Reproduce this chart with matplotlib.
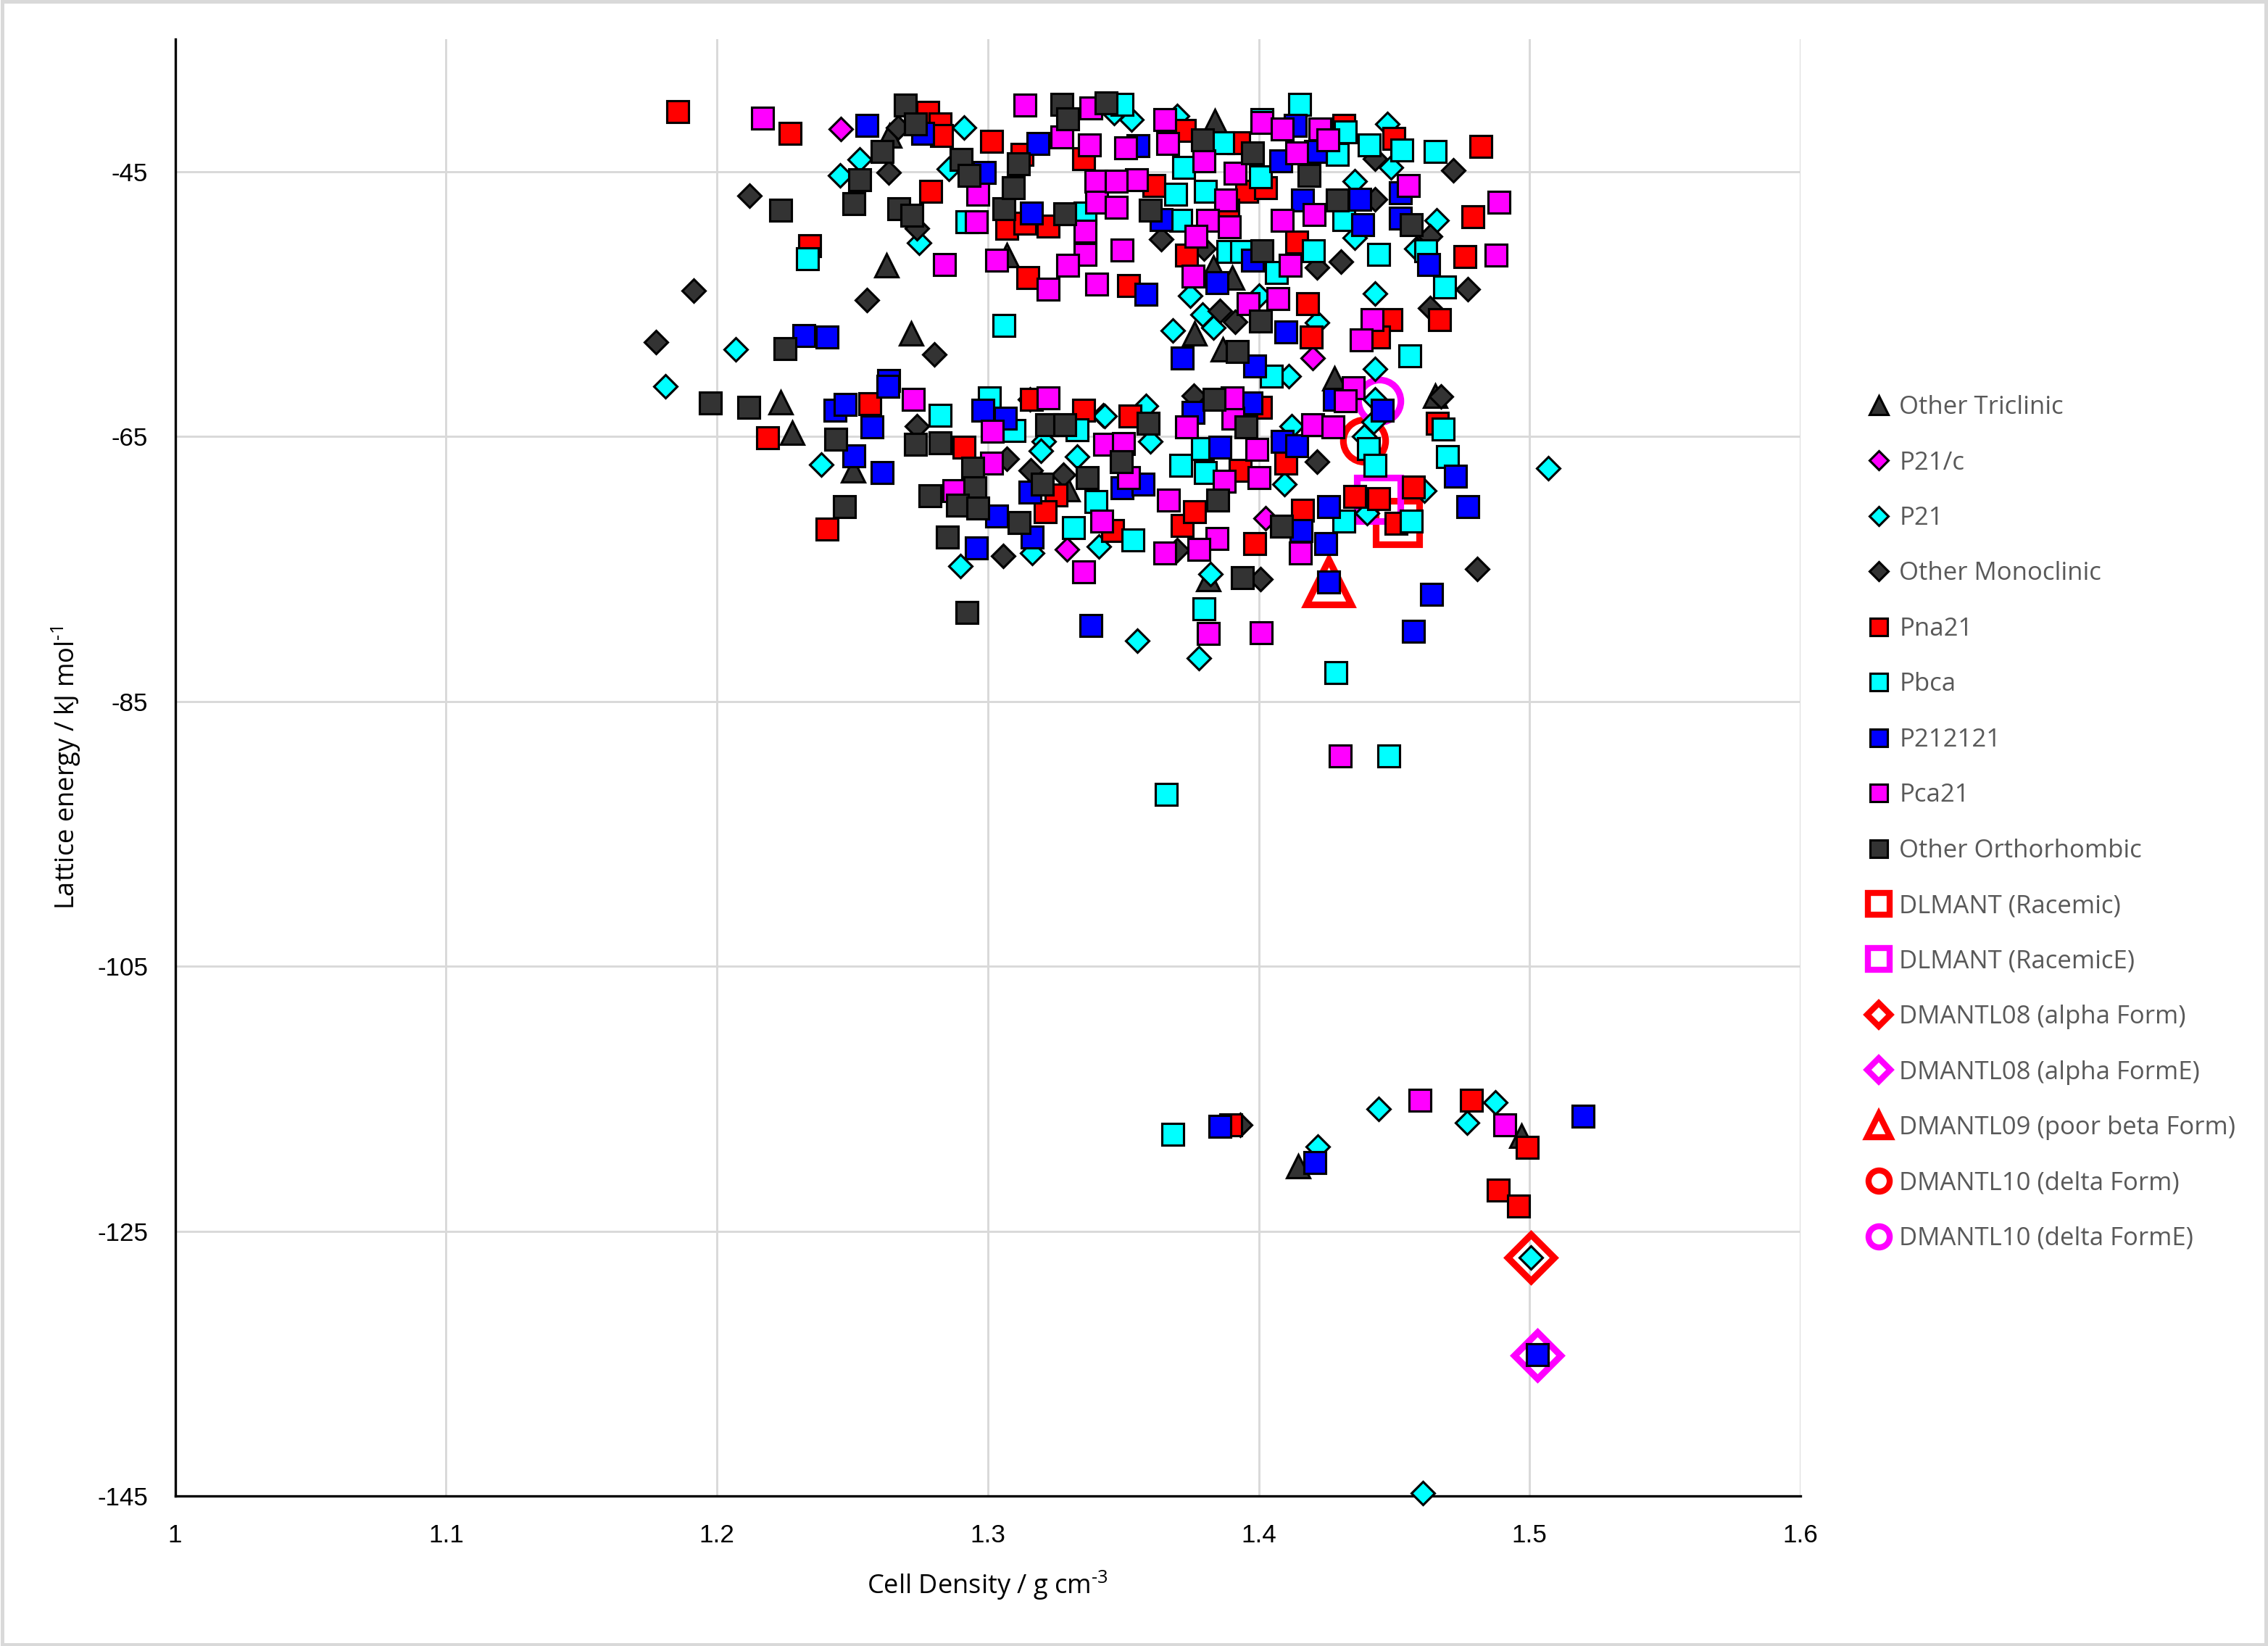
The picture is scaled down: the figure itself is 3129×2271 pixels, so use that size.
import matplotlib
matplotlib.use("Agg")
import matplotlib.pyplot as plt
from matplotlib.lines import Line2D
from matplotlib.patches import Rectangle

plt.rcParams['font.family'] = ['Liberation Sans', 'DejaVu Sans']
plt.rcParams['axes.unicode_minus'] = False
plt.rcParams['mathtext.fontset'] = 'custom'
plt.rcParams['mathtext.rm'] = 'Open Sans'
plt.rcParams['mathtext.it'] = 'Open Sans'
TITLE_FONT = ['Open Sans', 'DejaVu Sans']

# ---------------- data ----------------
tri_x = [1.2637, 1.2626, 1.2718, 1.307, 1.3838, 1.3833, 1.3903, 1.3763, 1.3868, 1.428,
         1.2236, 1.2277, 1.2503, 1.3296, 1.4651, 1.3815, 1.4971, 1.4145]
tri_y = [-42.3, -52.1, -57.2, -51.3, -41.2, -52.25, -53.0, -57.2, -58.4, -60.6,
         -62.4, -64.7, -67.55, -69.0, -61.9, -75.75, -117.8, -120.1]

p21c_x = [1.2457, 1.4198, 1.3291, 1.4024]
p21c_y = [-41.8, -59.1, -73.5, -71.2]

p21_x = [1.2913, 1.2528, 1.2454, 1.2857, 1.2747, 1.2069, 1.181,
         1.3531, 1.3467, 1.3699, 1.4476, 1.4489, 1.3746, 1.3792, 1.3833, 1.3682, 1.4111,
         1.4001, 1.4216, 1.443, 1.443, 1.4355, 1.4355, 1.4657, 1.4581,
         1.2384, 1.3155, 1.3426, 1.3206, 1.3195, 1.333, 1.29, 1.3163, 1.3409,
         1.443, 1.4425, 1.439, 1.5069, 1.461, 1.4401, 1.4121, 1.4096, 1.3583, 1.3432,
         1.3601, 1.3822, 1.3551, 1.378,
         1.4443, 1.4873, 1.4768, 1.4219, 1.5004, 1.4606]
p21_y = [-41.7, -44.1, -45.3, -44.8, -50.4, -58.4, -61.2,
         -41.1, -40.6, -40.8, -41.4, -44.7, -54.4, -55.8, -56.8, -57.0, -60.45,
         -54.4, -56.4, -54.2, -59.9, -50.0, -45.7, -48.7, -50.8,
         -67.1, -62.2, -63.4, -65.4, -66.1, -66.5, -74.8, -73.8, -73.3,
         -62.2, -63.9, -65.0, -67.4, -69.1, -70.8, -64.2, -68.6, -62.7, -63.45,
         -65.4, -75.4, -80.4, -81.75,
         -115.8, -115.3, -116.8, -118.6, -127.0, -144.8]

mono_x = [1.267, 1.2634, 1.2119, 1.2739, 1.1914, 1.2553, 1.1776, 1.2803,
          1.4718, 1.443, 1.3641, 1.3798, 1.3856, 1.3914, 1.4216, 1.4303, 1.4773, 1.4633,
          1.443, 1.4633,
          1.2739, 1.3071, 1.3058, 1.3158, 1.3279,
          1.4672, 1.4806, 1.4216, 1.376, 1.3699, 1.4007, 1.3933]
mono_y = [-41.7, -45.05, -46.8, -49.3, -54.0, -54.7, -57.9, -58.8,
          -44.9, -44.05, -50.1, -50.8, -55.5, -56.35, -52.25, -51.8, -53.9, -55.3,
          -47.1, -49.9,
          -64.2, -66.7, -74.0, -67.55, -67.9,
          -62.0, -75.0, -66.9, -61.9, -73.6, -75.75, -117.0]

pna_x = [1.1855, 1.2271, 1.2778, 1.2823, 1.2829, 1.3015, 1.279, 1.2343, 1.3148, 1.307,
         1.3136, 1.3223, 1.3127, 1.3353,
         1.3725, 1.3925, 1.4314, 1.45, 1.4819, 1.3613, 1.3955, 1.4025, 1.3885, 1.3734,
         1.352, 1.4181, 1.4193, 1.414, 1.4489, 1.4442, 1.4668, 1.479, 1.4761,
         1.2187, 1.2564, 1.2407, 1.2911, 1.3161, 1.3353, 1.3251, 1.3212,
         1.466, 1.457, 1.4354, 1.4442, 1.4506, 1.4161, 1.3984, 1.3717, 1.3763, 1.41,
         1.4007, 1.3525, 1.3462, 1.3931,
         1.3898, 1.4786, 1.4991, 1.4884, 1.496]
pna_y = [-40.45, -42.1, -40.5, -41.4, -42.3, -42.7, -46.5, -50.6, -53.0, -49.3,
         -48.9, -49.1, -43.7, -44.05,
         -41.9, -42.8, -41.5, -42.5, -43.1, -46.05, -46.5, -46.2, -47.9, -51.3,
         -53.6, -55.0, -57.5, -50.3, -56.2, -57.5, -56.2, -48.4, -51.4,
         -65.1, -62.5, -72.0, -65.8, -62.2, -63.0, -69.4, -70.7,
         -64.0, -68.8, -69.55, -69.7, -71.55, -70.55, -73.1, -71.7, -70.7, -67.0,
         -62.8, -63.45, -72.1, -67.55,
         -117.0, -115.1, -118.7, -121.9, -123.1]

pbca_x = [1.2924, 1.2333, 1.306, 1.3358,
          1.3496, 1.3867, 1.4012, 1.4151, 1.432, 1.4407, 1.4529, 1.4651, 1.4291, 1.3722,
          1.3694, 1.3804, 1.4007, 1.3711, 1.4048, 1.4203, 1.4065, 1.3885, 1.3937, 1.4442,
          1.4558, 1.4314, 1.4616, 1.4686,
          1.2823, 1.3005, 1.3096, 1.333, 1.3398, 1.3317,
          1.4405, 1.443, 1.468, 1.4697, 1.4564, 1.4314, 1.3537, 1.3711, 1.3804, 1.3792,
          1.3797, 1.4285,
          1.3683, 1.448, 1.3659]
pbca_y = [-48.8, -51.6, -56.6, -48.15,
          -39.9, -42.8, -41.1, -39.9, -42.0, -43.0, -43.4, -43.5, -43.7, -44.7,
          -46.7, -46.5, -45.4, -48.7, -60.45, -51.0, -52.6, -51.05, -51.05, -51.25,
          -58.9, -48.6, -51.0, -53.7,
          -63.4, -62.1, -64.55, -64.5, -69.9, -71.9,
          -65.9, -67.2, -64.45, -66.5, -71.4, -71.4, -72.8, -67.2, -67.7, -65.9,
          -78.0, -82.85,
          -117.7, -89.1, -92.0]

p212121_x = [1.2555, 1.2761, 1.2987, 1.2322, 1.2407, 1.2634, 1.3161, 1.3184,
             1.3554, 1.4134, 1.421, 1.4082, 1.3641, 1.3845, 1.3583, 1.3717, 1.3984, 1.41,
             1.3978, 1.4385, 1.4372, 1.4523, 1.4523, 1.4628, 1.4163,
             1.2435, 1.2474, 1.2632, 1.2572, 1.2506, 1.2611, 1.2983, 1.3065, 1.3032,
             1.2958, 1.3163, 1.3155, 1.3381,
             1.428, 1.4457, 1.4727, 1.4773, 1.4639, 1.457, 1.4259, 1.4259, 1.4157, 1.4247,
             1.4088, 1.414, 1.3972, 1.3757, 1.3856, 1.3496, 1.3572,
             1.3857, 1.5197, 1.4208, 1.503]
p212121_y = [-41.5, -42.1, -45.05, -57.4, -57.5, -60.8, -48.15, -42.9,
             -43.05, -41.5, -43.5, -44.2, -48.6, -53.4, -54.25, -59.1, -59.7, -57.1,
             -51.7, -49.0, -47.1, -46.6, -48.5, -52.0, -47.15,
             -63.0, -62.6, -61.2, -64.3, -66.45, -67.7, -63.0, -63.6, -71.0,
             -73.4, -72.6, -69.2, -79.3,
             -62.2, -63.0, -68.0, -70.3, -76.9, -79.7, -76.0, -70.3, -72.1, -73.1,
             -65.4, -65.7, -62.45, -63.2, -65.8, -68.9, -68.6,
             -117.1, -116.3, -119.8, -134.35]

pca_x = [1.2168, 1.2964, 1.2958, 1.284, 1.3032, 1.3223, 1.3274, 1.3136, 1.3381, 1.3375,
         1.3398, 1.3403, 1.3358, 1.3358, 1.3296, 1.3403,
         1.3653, 1.3664, 1.3508, 1.4012, 1.4087, 1.4227, 1.4256, 1.414, 1.3914, 1.3798,
         1.3549, 1.3473, 1.3879, 1.3473, 1.381, 1.3891, 1.3769, 1.3496, 1.3757, 1.396,
         1.407, 1.4117, 1.4419, 1.4378, 1.4552, 1.4888, 1.4877, 1.4204, 1.4088,
         1.2724, 1.3017, 1.3223, 1.3431, 1.3015, 1.2874, 1.342, 1.3353,
         1.4349, 1.432, 1.4198, 1.4273, 1.4154, 1.3845, 1.378, 1.3653, 1.3667, 1.3815,
         1.401, 1.4001, 1.3873, 1.3992, 1.3906, 1.3903, 1.3734, 1.3502, 1.352,
         1.4594, 1.4907, 1.43]
pca_y = [-40.96, -46.7, -48.8, -52.0, -51.7, -53.9, -42.4, -40.0, -40.2, -43.0,
         -45.7, -47.3, -49.5, -51.25, -52.1, -53.5,
         -41.1, -42.9, -43.2, -41.3, -41.8, -41.8, -42.6, -43.6, -45.1, -44.2,
         -45.6, -45.7, -47.15, -47.7, -48.7, -49.2, -49.9, -50.9, -52.9, -55.0,
         -54.6, -52.1, -56.2, -57.7, -46.05, -47.3, -51.3, -48.25, -48.7,
         -62.2, -64.6, -62.1, -65.6, -67.0, -69.1, -71.4, -75.2,
         -61.35, -62.3, -64.1, -64.3, -73.8, -72.7, -73.5, -73.8, -69.8, -79.9,
         -79.8, -68.1, -68.4, -66.0, -63.6, -62.1, -64.3, -65.55, -68.1,
         -115.1, -117.0, -89.1]

ortho_x = [1.2696, 1.2733, 1.2609, 1.2528, 1.2902, 1.293, 1.2234, 1.2505, 1.2671, 1.272,
           1.2251, 1.306, 1.3285, 1.3094, 1.3114, 1.3274, 1.3296, 1.3437,
           1.3792, 1.3977, 1.4187, 1.3601, 1.392, 1.4007, 1.4013, 1.4291, 1.4564,
           1.1975, 1.2117, 1.2438, 1.247, 1.2733, 1.2825, 1.3218, 1.3285, 1.2945,
           1.2953, 1.2787, 1.2889, 1.2964, 1.3116, 1.2851, 1.3201, 1.3366, 1.2922,
           1.4085, 1.385, 1.394, 1.3952, 1.3835, 1.3593, 1.3493]
ortho_y = [-40.0, -41.4, -43.5, -45.6, -44.1, -45.3, -47.9, -47.4, -47.8, -48.3,
           -58.35, -47.8, -48.2, -46.2, -44.4, -39.9, -41.0, -39.8,
           -42.6, -43.6, -45.3, -47.9, -58.6, -56.3, -51.0, -47.15, -49.0,
           -62.45, -62.8, -65.2, -70.3, -65.6, -65.5, -64.1, -64.1, -67.4,
           -68.9, -69.5, -70.2, -70.4, -71.5, -72.6, -68.6, -68.1, -78.3,
           -71.8, -69.8, -75.65, -64.3, -62.2, -64.0, -66.9]

# highlighted experimental structures
dlmant_x, dlmant_y = [1.4512], [-71.5]
dlmantE_x, dlmantE_y = [1.4442], [-69.75]
l08_x, l08_y = [1.5004], [-127.0]
l08E_x, l08E_y = [1.503], [-134.4]
l09_x, l09_y = [1.4259], [-76.0]
l10_x, l10_y = [1.439], [-65.3]
l10E_x, l10E_y = [1.4445], [-62.3]

x_ticks = [1.0, 1.1, 1.2, 1.3, 1.4, 1.5, 1.6]
x_tick_labels = ['1', '1.1', '1.2', '1.3', '1.4', '1.5', '1.6']
y_ticks = [-145, -125, -105, -85, -65, -45]

# ---------------- figure ----------------
W, H, DPI = 3129, 2271, 300
fig = plt.figure(figsize=(W / DPI, H / DPI), dpi=DPI)
ax = fig.add_axes([241.6 / W, 1 - 2064 / H, (2484 - 241.6) / W, (2064 - 54) / H])

DARK = '#333333'
EDGE = 'black'
ms_sq, ms_di, ms_tri, mew = 7.3, 5.4, 7.6, 0.75

regular = [
    ('Other Triclinic', tri_x, tri_y, '^', DARK, ms_tri),
    ('P21/c', p21c_x, p21c_y, 'D', '#FF00FF', ms_di),
    ('P21', p21_x, p21_y, 'D', '#00FFFF', ms_di),
    ('Other Monoclinic', mono_x, mono_y, 'D', DARK, ms_di),
    ('Pna21', pna_x, pna_y, 's', '#FF0000', ms_sq),
    ('Pbca', pbca_x, pbca_y, 's', '#00FFFF', ms_sq),
    ('P212121', p212121_x, p212121_y, 's', '#0000FF', ms_sq),
    ('Pca21', pca_x, pca_y, 's', '#FF00FF', ms_sq),
    ('Other Orthorhombic', ortho_x, ortho_y, 's', DARK, ms_sq),
]

special = [
    ('DLMANT (Racemic)', dlmant_x, dlmant_y, 's', '#FF0000', 14.5),
    ('DLMANT (RacemicE)', dlmantE_x, dlmantE_y, 's', '#FF00FF', 14.5),
    ('DMANTL08 (alpha Form)', l08_x, l08_y, 'D', '#FF0000', 11.0),
    ('DMANTL08 (alpha FormE)', l08E_x, l08E_y, 'D', '#FF00FF', 11.0),
    ('DMANTL09 (poor beta Form)', l09_x, l09_y, '^', '#FF0000', 15.0),
    ('DMANTL10 (delta Form)', l10_x, l10_y, 'o', '#FF0000', 14.0),
    ('DMANTL10 (delta FormE)', l10E_x, l10E_y, 'o', '#FF00FF', 14.0),
]

for name, xs, ys, mk, col, ms in special:
    ax.plot(xs, ys, linestyle='none', marker=mk, markersize=ms, markerfacecolor='none',
            markeredgecolor=col, markeredgewidth=2.2, zorder=2, clip_on=False)

for i, (name, xs, ys, mk, col, ms) in enumerate(regular):
    ax.plot(xs, ys, linestyle='none', marker=mk, markersize=ms, markerfacecolor=col,
            markeredgecolor=EDGE, markeredgewidth=mew, zorder=3 + i * 0.1, clip_on=False)

ax.set_xlim(1.0, 1.6)
ax.set_ylim(-145, -35)
ax.set_xticks(x_ticks)
ax.set_xticklabels(x_tick_labels)
ax.set_yticks(y_ticks)
ax.tick_params(axis='both', length=0, labelsize=8.4, colors='black', pad=9)
ax.grid(True, color='#D9D9D9', linewidth=0.7, zorder=0)
ax.set_axisbelow(True)
for s in ['top', 'right']:
    ax.spines[s].set_visible(False)
for s in ['left', 'bottom']:
    ax.spines[s].set_color('black')
    ax.spines[s].set_linewidth(0.8)
    ax.spines[s].set_zorder(1)

ax.set_xlabel('Cell Density / g cm$^{\\text{-3}}$', fontsize=8.7, family=TITLE_FONT)
ax.set_ylabel('Lattice energy / kJ mol$^{\\text{-1}}$', fontsize=8.7, family=TITLE_FONT)
ax.xaxis.set_label_coords(0.5, -0.0502)
ax.yaxis.set_label_coords(-0.0569, 0.5)

# legend
handles = []
for name, xs, ys, mk, col, ms in regular:
    handles.append(Line2D([], [], linestyle='none', marker=mk, markersize=ms * 0.8,
                          markerfacecolor=col, markeredgecolor=EDGE, markeredgewidth=mew,
                          label=name))
for name, xs, ys, mk, col, ms in special:
    handles.append(Line2D([], [], linestyle='none', marker=mk, markersize=ms * 0.5,
                          markerfacecolor='none', markeredgecolor=col, markeredgewidth=2.0,
                          label=name))
leg = fig.legend(handles=handles, loc='center left', bbox_to_anchor=(2575 / W, 0.5),
                 frameon=False, prop={'family': TITLE_FONT, 'size': 8.35},
                 labelspacing=1.22, handlelength=1.0,
                 handletextpad=0.3, borderpad=0, borderaxespad=0)
for t in leg.get_texts():
    t.set_color('#595959')

fig.patches.append(Rectangle((0.0008, 0.001), 0.9984, 0.998, transform=fig.transFigure,
                             fill=False, edgecolor='#D9D9D9', linewidth=1.2))

fig.savefig('out.png', dpi=DPI)
